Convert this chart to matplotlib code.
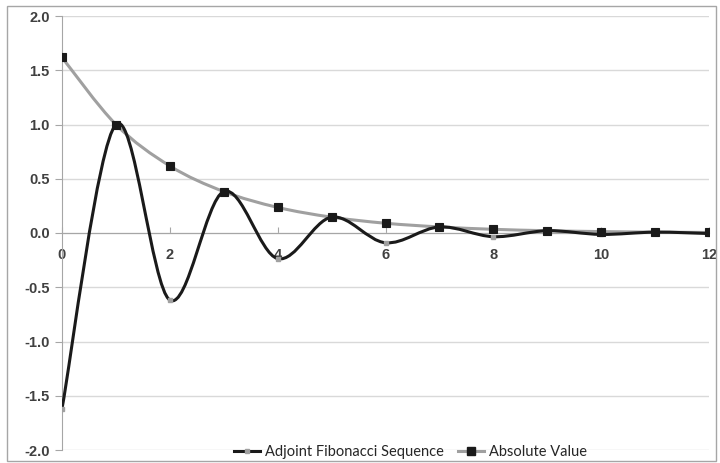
import numpy as np
import matplotlib.pyplot as plt
from matplotlib.path import Path
from matplotlib.patches import PathPatch, Rectangle
from matplotlib.lines import Line2D

# data
n = [0, 1, 2, 3, 4, 5, 6, 7, 8, 9, 10, 11, 12]
adjoint = [-1.618, 1.0, -0.618, 0.382, -0.236, 0.146, -0.090, 0.056, -0.034, 0.021, -0.013, 0.008, -0.005]
absval = [1.618, 1.0, 0.618, 0.382, 0.236, 0.146, 0.090, 0.056, 0.034, 0.021, 0.013, 0.008, 0.005]
yticks = [-2.0, -1.5, -1.0, -0.5, 0.0, 0.5, 1.0, 1.5, 2.0]
xticks = [0, 2, 4, 6, 8, 10, 12]

# tick labels are bold in the original, legend is not
plt.rcParams['font.family'] = ['Liberation Sans', 'DejaVu Sans']
plt.rcParams['font.weight'] = 'bold'


def smooth_path(x, y):
    # Excel-like smoothed line: cubic bezier with catmull-rom tangents
    x = np.asarray(x, float)
    y = np.asarray(y, float)
    verts = [(x[0], y[0])]
    codes = [Path.MOVETO]
    for i in range(len(x) - 1):
        x0, y0 = (x[i - 1], y[i - 1]) if i > 0 else (x[i], y[i])
        x3, y3 = (x[i + 2], y[i + 2]) if i + 2 < len(x) else (x[i + 1], y[i + 1])
        c1 = (x[i] + (x[i + 1] - x0) / 6, y[i] + (y[i + 1] - y0) / 6)
        c2 = (x[i + 1] - (x3 - x[i]) / 6, y[i + 1] - (y3 - y[i]) / 6)
        verts += [c1, c2, (x[i + 1], y[i + 1])]
        codes += [Path.CURVE4] * 3
    return Path(verts, codes)


fig = plt.figure(figsize=(7.2, 4.63), dpi=100)
fig.patches.append(Rectangle((7 / 720, 2 / 463), 709 / 720, 455 / 463, transform=fig.transFigure,
                             fill=False, edgecolor='#a6a6a6', linewidth=1))
ax = fig.add_axes([62 / 720, 13 / 463, 647 / 720, 434 / 463])

for s in ['top', 'right']:
    ax.spines[s].set_visible(False)
ax.spines['left'].set_color('#a6a6a6')
ax.spines['bottom'].set_position(('data', 0))
ax.spines['bottom'].set_color('#a6a6a6')

ax.set_xlim(0, 12)
ax.set_ylim(-2.0, 2.0)
ax.set_yticks(yticks)
ax.set_yticklabels(['%.1f' % v for v in yticks])
ax.set_xticks(xticks)
ax.grid(axis='y', color='#d9d9d9', linewidth=1)
ax.set_axisbelow(True)
ax.tick_params(axis='y', length=5, color='#a6a6a6', labelcolor='#404040', pad=4, labelsize=10.5)
ax.tick_params(axis='x', length=4, direction='in', color='#a6a6a6', labelcolor='#404040', pad=11,
               labelsize=10.5)

ax.add_patch(PathPatch(smooth_path(n, absval), facecolor='none', edgecolor='#a0a0a0', linewidth=2.2, zorder=3))
ax.add_patch(PathPatch(smooth_path(n, adjoint), facecolor='none', edgecolor='#1a1a1a', linewidth=2.2, zorder=4))
ax.plot(n, adjoint, linestyle='none', marker='s', markersize=2.5, color='#a0a0a0', zorder=5)
ax.plot(n, absval, linestyle='none', marker='s', markersize=5.5, color='#1a1a1a', zorder=6,
        markeredgewidth=0.8)

handles = [Line2D([], [], color='#1a1a1a', linewidth=2.2, marker='s', markersize=2.5,
                  markerfacecolor='#a0a0a0', markeredgecolor='#a0a0a0'),
           Line2D([], [], color='#a0a0a0', linewidth=2.2, marker='s', markersize=5.5,
                  markerfacecolor='#1a1a1a', markeredgecolor='#1a1a1a')]
fig.legend(handles, ['Adjoint Fibonacci Sequence', 'Absolute Value'], loc='center',
           bbox_to_anchor=(0.57, 1 - 452 / 463), ncol=2, frameon=False,
           prop={'family': 'Lato', 'weight': 'normal', 'size': 10.5},
           handlelength=1.8, columnspacing=1.0, handletextpad=0.3, labelcolor='#262626')

fig.savefig('out.png', dpi=100)
